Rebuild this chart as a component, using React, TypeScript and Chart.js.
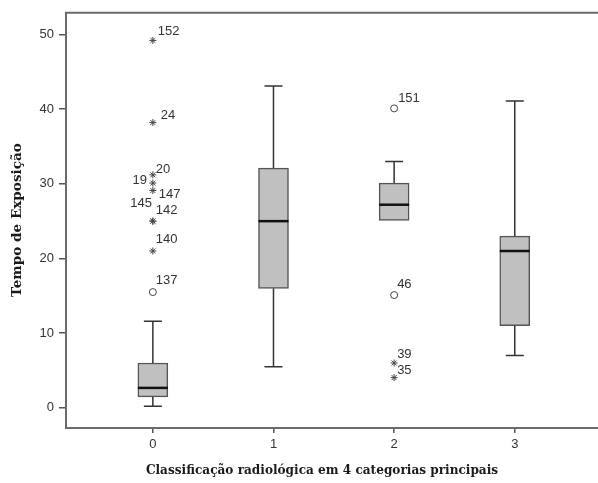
import React, { useEffect, useRef } from "react";
import { Chart, registerables } from "chart.js";

Chart.register(...registerables);

// ---- Data ----
const categories = [0, 1, 2, 3];
const whiskerLow = [0.2, 5.5, 25.1, 7.0];
const q1 = [1.47, 16.0, 25.1, 11.0];
const median = [2.67, 25.0, 27.2, 21.0];
const q3 = [6.0, 32.1, 30.1, 23.0];
const whiskerHigh = [11.6, 43.1, 33.0, 41.1];

// Outliers (circles)
const outlierCat = [0, 2, 2];
const outlierVal = [15.5, 40.1, 15.1];
const outlierLabel = ["137", "151", "46"];

// Extremes (stars)
const extremeCat = [0, 0, 0, 0, 0, 0, 0, 0, 2, 2];
const extremeVal = [49.2, 38.2, 31.2, 30.1, 29.1, 25.0, 25.0, 21.0, 6.0, 4.05];
const extremeLabel = ["152", "24", "20", "19", "147", "145", "142", "140", "39", "35"];

const yTicks = [0, 10, 20, 30, 40, 50];

const xTitle = "Classificação radiológica em 4 categorias principais";
const yTitle = "Tempo de Exposição";

// ---- Label placement style (pixel offsets from the point) ----
const labelStyle: Record<string, { dx: number; dy: number; align?: CanvasTextAlign }> = {
  "152": { dx: 5, dy: -9.5 },
  "24": { dx: 8, dy: -7 },
  "20": { dx: 3, dy: -5 },
  "19": { dx: -6, dy: -3, align: "right" },
  "147": { dx: 6, dy: 4 },
  "145": { dx: -1, dy: -18, align: "right" },
  "142": { dx: 3, dy: -10.5 },
  "140": { dx: 3, dy: -12 },
  "137": { dx: 3, dy: -12 },
  "151": { dx: 4, dy: -10 },
  "46": { dx: 3, dy: -11 },
  "39": { dx: 3, dy: -9 },
  "35": { dx: 3, dy: -7 },
};

const BOX_W = 30;
const CAP_W = 18;

const boxPlugin = {
  id: "boxExtras",
  beforeDatasetsDraw(chart: any) {
    const { ctx, scales } = chart;
    const xs = scales.x;
    const ys = scales.y;
    ctx.save();
    ctx.strokeStyle = "#333";
    ctx.lineWidth = 1.5;
    categories.forEach((c, i) => {
      const px = xs.getPixelForValue(c);
      const yLo = ys.getPixelForValue(whiskerLow[i]);
      const yQ1 = ys.getPixelForValue(q1[i]);
      const yQ3 = ys.getPixelForValue(q3[i]);
      const yHi = ys.getPixelForValue(whiskerHigh[i]);
      ctx.beginPath();
      ctx.moveTo(px, yLo);
      ctx.lineTo(px, yQ1);
      ctx.moveTo(px, yQ3);
      ctx.lineTo(px, yHi);
      if (whiskerLow[i] < q1[i]) {
        ctx.moveTo(px - CAP_W / 2, yLo);
        ctx.lineTo(px + CAP_W / 2, yLo);
      }
      ctx.moveTo(px - CAP_W / 2, yHi);
      ctx.lineTo(px + CAP_W / 2, yHi);
      ctx.stroke();
    });
    ctx.restore();
  },
  afterDatasetsDraw(chart: any) {
    const { ctx, scales } = chart;
    const xs = scales.x;
    const ys = scales.y;
    ctx.save();
    // medians
    ctx.strokeStyle = "#111";
    ctx.lineWidth = 2.5;
    categories.forEach((c, i) => {
      const px = xs.getPixelForValue(c);
      const ym = ys.getPixelForValue(median[i]);
      ctx.beginPath();
      ctx.moveTo(px - BOX_W / 2, ym);
      ctx.lineTo(px + BOX_W / 2, ym);
      ctx.stroke();
    });
    // labels
    ctx.fillStyle = "#333";
    ctx.font = "13px 'Liberation Sans', Arial, sans-serif";
    ctx.textBaseline = "middle";
    const drawLabel = (cat: number, val: number, lab: string) => {
      const st = labelStyle[lab] || { dx: 4, dy: -9 };
      const px = xs.getPixelForValue(cat);
      const py = ys.getPixelForValue(val);
      ctx.textAlign = st.align || "left";
      ctx.fillText(lab, px + st.dx, py + st.dy);
    };
    outlierCat.forEach((c, i) => drawLabel(c, outlierVal[i], outlierLabel[i]));
    extremeCat.forEach((c, i) => drawLabel(c, extremeVal[i], extremeLabel[i]));
    ctx.restore();
  },
  afterDraw(chart: any) {
    const { ctx, chartArea } = chart;
    ctx.save();
    // frame
    ctx.strokeStyle = "#6b6b6b";
    ctx.lineWidth = 2;
    ctx.beginPath();
    ctx.moveTo(chart.width + 2, chartArea.top);
    ctx.lineTo(chartArea.left, chartArea.top);
    ctx.lineTo(chartArea.left, chartArea.bottom);
    ctx.lineTo(chart.width + 2, chartArea.bottom);
    ctx.stroke();
    // titles
    ctx.fillStyle = "#1a1a1a";
    ctx.font = "bold 12.1px 'DejaVu Serif', serif";
    ctx.textAlign = "center";
    ctx.textBaseline = "alphabetic";
    ctx.fillText(xTitle, 322, 474);
    ctx.font = "bold 13.6px 'DejaVu Serif', serif";
    ctx.translate(17, 220);
    ctx.rotate(-Math.PI / 2);
    ctx.textBaseline = "middle";
    ctx.fillText(yTitle, 0, 0);
    ctx.restore();
  },
};

export default function App() {
  const ref = useRef<HTMLCanvasElement | null>(null);
  useEffect(() => {
    if (!ref.current) return;
    const tickFont = { family: "'Liberation Sans', Arial, sans-serif", size: 13 };
    const chart = new Chart(ref.current, {
      type: "bar",
      data: {
        datasets: [
          {
            type: "bar",
            data: categories.map((c, i) => ({ x: c, y: [q1[i], q3[i]] })) as any,
            backgroundColor: "#c0c0c0",
            borderColor: "#555",
            borderWidth: 1.5,
            borderSkipped: false,
            barThickness: BOX_W,
            grouped: false,
          } as any,
          {
            type: "scatter",
            data: outlierCat.map((c, i) => ({ x: c, y: outlierVal[i] })),
            pointStyle: "circle",
            radius: 3.5,
            backgroundColor: "#fff",
            borderColor: "#444",
            borderWidth: 1,
          } as any,
          {
            type: "scatter",
            data: extremeCat.map((c, i) => ({ x: c, y: extremeVal[i] })),
            pointStyle: "star",
            radius: 3.5,
            backgroundColor: "#444",
            borderColor: "#444",
            borderWidth: 1,
          } as any,
        ],
      },
      options: {
        responsive: false,
        animation: false,
        layout: { autoPadding: false, padding: { top: 11, right: 0, left: 0, bottom: 0 } },
        plugins: { legend: { display: false }, tooltip: { enabled: false } },
        scales: {
          x: {
            type: "linear",
            offset: false,
            min: -0.72,
            max: 3.69,
            afterBuildTicks: (s: any) => {
              s.ticks = categories.map((v) => ({ value: v }));
            },
            afterFit: (s: any) => {
              s.height = 55;
            },
            grid: { display: true, offset: false, drawOnChartArea: false, drawTicks: true, tickLength: 5, color: "#555", lineWidth: 1.5 },
            border: { display: false },
            ticks: {
              font: tickFont,
              color: "#333",
              padding: 4,
              autoSkip: false,
              maxRotation: 0,
              callback: (v: any) => String(v),
            },
          },
          y: {
            type: "linear",
            min: -2.7,
            max: 52.9,
            afterBuildTicks: (s: any) => {
              s.ticks = yTicks.map((v) => ({ value: v }));
            },
            afterFit: (s: any) => {
              s.width = 66;
            },
            grid: { display: true, drawOnChartArea: false, drawTicks: true, tickLength: 7, color: "#555", lineWidth: 1.5 },
            border: { display: false },
            ticks: {
              font: tickFont,
              color: "#333",
              padding: 5,
              callback: (v: any) => String(v),
            },
          },
        },
      } as any,
      plugins: [boxPlugin],
    });
    return () => chart.destroy();
  }, []);
  return (
    <div style={{ position: "absolute", left: 0, top: 0, width: 598, height: 483, background: "#fff" }}>
      <canvas ref={ref} width={598} height={483} style={{ display: "block" }} />
    </div>
  );
}
